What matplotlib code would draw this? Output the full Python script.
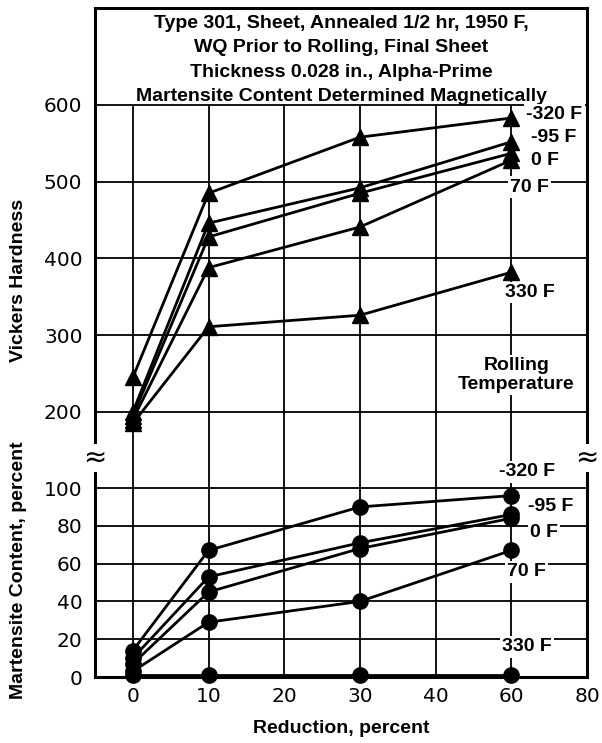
import numpy as np
import matplotlib.pyplot as plt

# reduction, percent (x values of the measurements)
reduction = [0, 10, 30, 60]
temps = ["-320 F", "-95 F", "0 F", "70 F", "330 F"]

# Vickers hardness per rolling temperature
hv_m320 = [245, 485, 558, 583]
hv_m95 = [200, 446, 492, 552]
hv_0 = [195, 428, 485, 537]
hv_70 = [190, 388, 441, 528]
hv_330 = [185, 311, 326, 382]

# martensite content, percent
mc_m320 = [14, 67, 90, 96]
mc_m95 = [10, 53, 71, 86]
mc_0 = [7, 45, 68, 84]
mc_70 = [3, 29, 40, 67]
mc_330 = [1, 1, 1, 1]

x_ticks = [0, 10, 20, 30, 40, 60, 80]
hv_ticks = [200, 300, 400, 500, 600]
mc_ticks = [0, 20, 40, 60, 80, 100]

title = ("Type 301, Sheet, Annealed 1/2 hr, 1950 F,\n"
         "WQ Prior to Rolling, Final Sheet\n"
         "Thickness 0.028 in., Alpha-Prime\n"
         "Martensite Content Determined Magnetically")

# x axis is evenly spaced by tick, not by value (40 -> 60 -> 80)
_xv = [-10] + x_ticks
_xp = list(range(-1, len(x_ticks)))


def fwd(x):
    return np.interp(x, _xv, _xp)


def inv(p):
    return np.interp(p, _xp, _xv)


lab_font = dict(family="Liberation Sans", weight="bold", fontsize=14)
tick_font = dict(family="DejaVu Sans", fontsize=14.5)

fig = plt.figure(figsize=(6.02, 7.43), dpi=100)
ax1 = fig.add_axes([0.1578, 0.3836, 0.8173, 0.6057])
ax2 = fig.add_axes([0.1578, 0.0888, 0.8173, 0.2948])

for ax in (ax1, ax2):
    ax.set_xscale("function", functions=(fwd, inv))
    ax.set_xlim(-5, 80)
    for s in ax.spines.values():
        s.set_linewidth(2.2)
    ax.tick_params(length=0)
ax1.spines["bottom"].set_visible(False)
ax2.spines["top"].set_visible(False)

ax1.set_ylim(140, 726.4)
ax2.set_ylim(0, 115.9)

# grid
grid_kw = dict(color="black", lw=1.3, zorder=1)
ax1.hlines(hv_ticks, -5, 80, **grid_kw)
ax1.vlines(x_ticks[:-1], 140, 600, **grid_kw)
ax2.hlines(mc_ticks[1:], -5, 80, **grid_kw)
ax2.vlines(x_ticks[:-1], 0, 115.9, **grid_kw)

hv_all = [hv_m320, hv_m95, hv_0, hv_70, hv_330]
mc_all = [mc_m320, mc_m95, mc_0, mc_70, mc_330]
for hv in hv_all:
    ax1.plot(reduction, hv, color="black", lw=2, marker="^", ms=12,
             zorder=3, clip_on=False)
for mc in mc_all:
    ax2.plot(reduction, mc, color="black", lw=2, marker="o", ms=11,
             zorder=3, clip_on=False)

ax1.set_xticks([])
ax1.set_yticks(hv_ticks)
ax1.set_yticklabels([str(t) for t in hv_ticks], **tick_font)
ax2.set_xticks(x_ticks)
ax2.set_xticklabels([str(t) for t in x_ticks], **tick_font)
ax2.set_yticks(mc_ticks)
ax2.set_yticklabels([str(t) for t in mc_ticks], **tick_font)
ax1.tick_params(axis="y", pad=9)
ax2.tick_params(axis="y", pad=9)
ax2.tick_params(axis="x", pad=7)

ax1.text(0.5, 0.884, title, transform=ax1.transAxes, ha="center", va="center",
         linespacing=1.58, family="Liberation Sans", weight="bold", fontsize=14)

bb = dict(facecolor="white", edgecolor="none", pad=1.5)
# rolling temperature labels, hardness panel
ax1.text(64, 588, temps[0], ha="left", va="center", bbox=bb, zorder=4, **lab_font)
ax1.text(65.3, 558, temps[1], ha="left", va="center", zorder=4, **lab_font)
ax1.text(65.3, 528, temps[2], ha="left", va="center", zorder=4, **lab_font)
ax1.text(64.8, 493, temps[3], ha="center", va="center", bbox=bb, zorder=4, **lab_font)
ax1.text(65, 356, temps[4], ha="center", va="center", bbox=bb, zorder=4, **lab_font)
ax1.text(61.3, 248, "Rolling\nTemperature", ha="center", va="center",
         linespacing=1.15, bbox=bb, zorder=4, **lab_font)
# martensite panel
ax2.text(64.2, 108.5, temps[0], ha="center", va="center", bbox=bb, zorder=4, **lab_font)
ax2.text(64.5, 90, temps[1], ha="left", va="center", zorder=4, **lab_font)
ax2.text(65, 76.7, temps[2], ha="left", va="center", bbox=bb, zorder=4, **lab_font)
ax2.text(64, 55.6, temps[3], ha="center", va="center", bbox=bb, zorder=4, **lab_font)
ax2.text(64.2, 15.9, temps[4], ha="center", va="center", bbox=bb, zorder=4, **lab_font)

fig.text(0.03, 0.623, "Vickers Hardness", rotation=90, ha="center", va="center",
         family="Liberation Sans", weight="bold", fontsize=14)
fig.text(0.03, 0.233, "Martensite Content, percent", rotation=90, ha="center",
         va="center", family="Liberation Sans", weight="bold", fontsize=14)
fig.text(0.567, 0.02, "Reduction, percent", ha="center", va="center",
         family="Liberation Sans", weight="bold", fontsize=14)

# axis break marks
for xf in (0.1578, 0.975):
    fig.text(xf, 0.3836, "\u2248", ha="center", va="center", fontsize=20,
             family="DejaVu Sans", bbox=dict(facecolor="white", edgecolor="none", pad=0))

fig.savefig("out.png", dpi=100)
